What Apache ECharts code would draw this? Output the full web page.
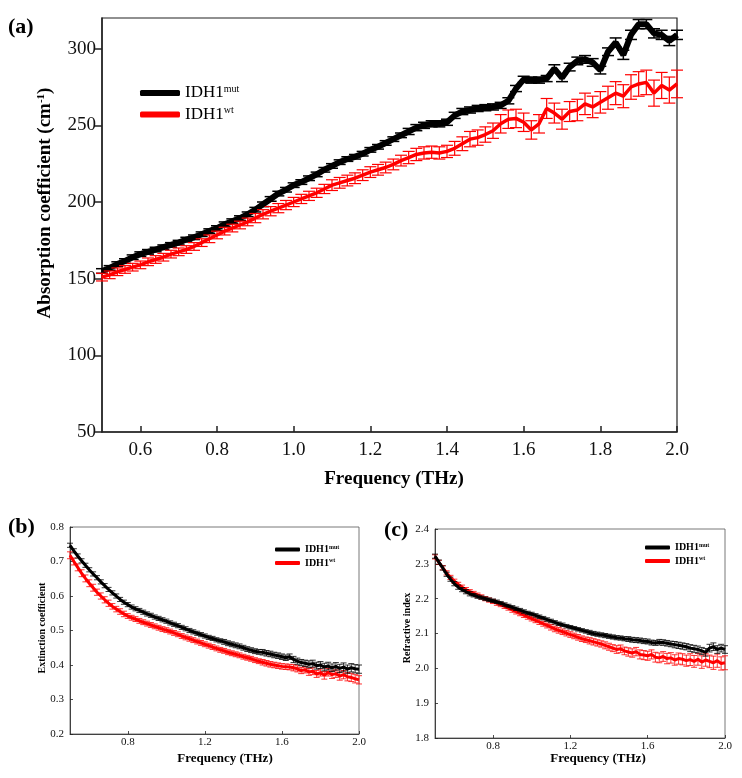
<!DOCTYPE html>
<html><head><meta charset="utf-8">
<script src="https://cdn.jsdelivr.net/npm/echarts@6/dist/echarts.min.js"></script>
<style>html,body{margin:0;padding:0;background:#fff}#c{width:742px;height:778px}</style>
</head><body><div id="c"></div>
<script>
const freq = [0.50,0.52,0.54,0.56,0.58,0.60,0.62,0.64,0.66,0.68,0.70,0.72,0.74,0.76,0.78,0.80,0.82,0.84,0.86,0.88,0.90,0.92,0.94,0.96,0.98,1.00,1.02,1.04,1.06,1.08,1.10,1.12,1.14,1.16,1.18,1.20,1.22,1.24,1.26,1.28,1.30,1.32,1.34,1.36,1.38,1.40,1.42,1.44,1.46,1.48,1.50,1.52,1.54,1.56,1.58,1.60,1.62,1.64,1.66,1.68,1.70,1.72,1.74,1.76,1.78,1.80,1.82,1.84,1.86,1.88,1.90,1.92,1.94,1.96,1.98,2.00];

// (a) absorption coefficient (cm-1)
const absMut = [155,157,159.5,161.5,164,166,167.5,169,170.5,172,173.5,175.5,177,179,181,183,185.5,187.5,189.5,192,195,198.5,202,205.5,208,211,213,215.5,218,221,223.5,226,228,229.5,231.5,234,236,238.5,241,243.5,246,248.5,250,251,251,252,256.5,259,260,261,261.5,262,263,266,274,280,279.5,279.5,280.5,287,281,288,292,293,291,286,298,304,296,309,316,316,310,309,305,309];
const absMutErr = [1.5,1.5,1.5,1.5,1.5,1.5,1.5,1.5,1.5,1.5,1.5,1.5,1.5,1.5,1.5,1.5,1.5,1.5,1.5,1.5,1.5,1.5,1.5,1.5,1.5,1.5,1.5,1.5,1.5,1.5,1.5,1.5,1.5,1.5,1.5,1.5,1.5,1.5,1.5,1.5,2,2,2,2,2,2,2,2,2,2,2,2,2,2,2,2,2,2,2,2.5,2.5,2.5,2.5,2.5,2.5,2.5,2.5,3,3,3,3,3,3,3,3,3];
const absWt = [151,152.5,154.5,156,157.5,159,161,162.5,164,166,167.5,169,171,173.5,176,178.5,181,183,185,187,189.5,192,194,196,198,200,202,204,206,208.5,211,212.5,214,215.5,217.5,219.5,221,222.5,224.5,227,229,231,232,232.5,232,233,235,238,241,242,244,246.5,251,254,254.5,252,247,251,261,258,254,259,260,264,262,265,268,271,269,275,277,278,271,276,273,277];
const absWtErr = [2.5,2.5,2.5,2.5,2.5,2.5,2.5,2.5,2.5,2.5,2.5,2.5,2.5,2.5,2.5,2.5,2.5,2.5,2.5,2.5,3,3,3,3,3,3,3,3,3,3,3.5,3.5,3.5,3.5,3.5,3.5,3.5,3.5,3.5,3.5,4,4,4,4,4,4,4.5,4.5,5,5,5,5,6,6,6,6,6,6,6.5,6.5,6.5,6.5,7,7,7,7,7.5,7.5,7.5,8,8,8,8.5,8.5,8.5,9];

// (b) extinction coefficient
const extMut = [0.747,0.731,0.716,0.702,0.689,0.676,0.664,0.653,0.641,0.630,0.619,0.609,0.600,0.590,0.582,0.575,0.568,0.563,0.558,0.553,0.548,0.544,0.539,0.535,0.531,0.527,0.522,0.518,0.514,0.509,0.505,0.500,0.496,0.492,0.488,0.484,0.480,0.477,0.473,0.470,0.467,0.463,0.460,0.457,0.454,0.450,0.446,0.443,0.440,0.438,0.437,0.434,0.432,0.429,0.427,0.424,0.421,0.424,0.416,0.411,0.407,0.405,0.402,0.404,0.398,0.400,0.394,0.397,0.392,0.396,0.390,0.394,0.388,0.392,0.389,0.388];
const extMutErr = [0.006,0.006,0.006,0.006,0.006,0.006,0.006,0.006,0.006,0.006,0.006,0.006,0.006,0.006,0.006,0.006,0.006,0.006,0.006,0.006,0.006,0.006,0.006,0.006,0.006,0.006,0.006,0.006,0.006,0.006,0.006,0.006,0.006,0.006,0.006,0.006,0.006,0.006,0.006,0.006,0.007,0.007,0.007,0.007,0.007,0.007,0.007,0.007,0.007,0.007,0.008,0.008,0.008,0.008,0.008,0.008,0.008,0.008,0.009,0.009,0.009,0.009,0.010,0.010,0.010,0.010,0.011,0.011,0.011,0.011,0.012,0.012,0.012,0.012,0.012,0.012];
const extWt = [0.718,0.700,0.683,0.666,0.651,0.637,0.624,0.611,0.600,0.589,0.579,0.570,0.562,0.555,0.548,0.542,0.537,0.533,0.528,0.524,0.520,0.516,0.512,0.508,0.504,0.501,0.497,0.493,0.489,0.484,0.480,0.476,0.472,0.468,0.464,0.460,0.456,0.452,0.448,0.444,0.441,0.437,0.434,0.431,0.428,0.424,0.421,0.418,0.414,0.411,0.408,0.405,0.402,0.400,0.398,0.396,0.395,0.394,0.392,0.389,0.384,0.386,0.380,0.382,0.374,0.378,0.370,0.379,0.372,0.375,0.368,0.372,0.366,0.364,0.360,0.357];
const extWtErr = [0.010,0.010,0.010,0.010,0.010,0.010,0.010,0.009,0.009,0.009,0.009,0.008,0.008,0.008,0.008,0.007,0.007,0.007,0.007,0.007,0.007,0.007,0.007,0.007,0.007,0.007,0.007,0.007,0.007,0.007,0.007,0.007,0.007,0.007,0.007,0.007,0.007,0.007,0.007,0.007,0.007,0.007,0.007,0.007,0.007,0.007,0.007,0.007,0.007,0.007,0.008,0.008,0.008,0.008,0.008,0.008,0.008,0.008,0.009,0.009,0.009,0.009,0.010,0.010,0.010,0.010,0.011,0.011,0.011,0.011,0.012,0.012,0.012,0.012,0.012,0.012];

// (c) refractive index
const refMut = [2.322,2.305,2.288,2.270,2.256,2.243,2.233,2.226,2.220,2.214,2.210,2.206,2.203,2.200,2.197,2.194,2.191,2.187,2.183,2.179,2.175,2.171,2.167,2.163,2.159,2.156,2.152,2.148,2.144,2.140,2.136,2.132,2.128,2.125,2.121,2.118,2.115,2.112,2.109,2.106,2.103,2.100,2.098,2.096,2.094,2.092,2.090,2.088,2.087,2.085,2.084,2.082,2.081,2.080,2.078,2.077,2.074,2.073,2.075,2.074,2.072,2.070,2.068,2.066,2.064,2.062,2.058,2.056,2.054,2.050,2.046,2.058,2.062,2.054,2.058,2.054];
const refMutErr = [0.006,0.006,0.006,0.006,0.006,0.006,0.006,0.006,0.006,0.006,0.005,0.005,0.005,0.005,0.005,0.005,0.005,0.005,0.005,0.005,0.005,0.005,0.005,0.005,0.005,0.005,0.005,0.005,0.005,0.005,0.005,0.005,0.005,0.005,0.005,0.005,0.005,0.005,0.005,0.005,0.006,0.006,0.006,0.006,0.006,0.006,0.006,0.006,0.006,0.006,0.007,0.007,0.007,0.007,0.007,0.007,0.007,0.007,0.008,0.008,0.008,0.008,0.009,0.009,0.009,0.009,0.010,0.010,0.010,0.010,0.011,0.011,0.011,0.011,0.011,0.011];
const refWt = [2.320,2.304,2.289,2.274,2.261,2.250,2.241,2.233,2.226,2.220,2.215,2.210,2.205,2.200,2.196,2.192,2.187,2.183,2.178,2.173,2.168,2.163,2.158,2.153,2.148,2.143,2.138,2.133,2.128,2.123,2.118,2.113,2.109,2.105,2.101,2.097,2.093,2.089,2.085,2.082,2.079,2.076,2.073,2.070,2.066,2.062,2.058,2.054,2.056,2.050,2.047,2.044,2.048,2.040,2.038,2.036,2.040,2.032,2.030,2.034,2.028,2.030,2.024,2.028,2.026,2.022,2.025,2.020,2.026,2.018,2.024,2.020,2.016,2.022,2.014,2.016];
const refWtErr = [0.006,0.006,0.006,0.006,0.006,0.006,0.006,0.006,0.006,0.006,0.006,0.006,0.006,0.006,0.006,0.006,0.006,0.006,0.006,0.006,0.007,0.007,0.007,0.007,0.007,0.007,0.007,0.007,0.007,0.007,0.008,0.008,0.008,0.008,0.008,0.008,0.008,0.008,0.008,0.008,0.009,0.009,0.009,0.009,0.010,0.010,0.010,0.011,0.011,0.011,0.012,0.012,0.012,0.013,0.013,0.013,0.013,0.014,0.014,0.014,0.015,0.015,0.015,0.016,0.016,0.016,0.017,0.017,0.017,0.018,0.018,0.018,0.019,0.019,0.019,0.020];

const xTicksA = [0.6,0.8,1.0,1.2,1.4,1.6,1.8,2.0];
const yTicksA = [50,100,150,200,250,300];
const xTicksBC = [0.8,1.2,1.6,2.0];
const yTicksB = [0.2,0.3,0.4,0.5,0.6,0.7,0.8];
const yTicksC = [1.8,1.9,2.0,2.1,2.2,2.3,2.4];
const legendNames = ['IDH1mut','IDH1wt'];

const FONT = '"Liberation Serif", "Times New Roman", serif';
const chart = echarts.init(document.getElementById('c'), null, {renderer:'canvas'});

function pts(v){ return freq.map((f,i)=>[f, v[i]]); }
function errPts(v,e){ return freq.map((f,i)=>[f, v[i], e[i]]); }
function errRender(cap, color, lw){
  return function(params, api){
    const x = api.value(0), y = api.value(1), e = api.value(2);
    const lo = api.coord([x, y - e]), hi = api.coord([x, y + e]);
    const st = {stroke: color, lineWidth: lw};
    return {type:'group', children:[
      {type:'line', shape:{x1:lo[0],y1:lo[1],x2:hi[0],y2:hi[1]}, style:st},
      {type:'line', shape:{x1:hi[0]-cap,y1:hi[1],x2:hi[0]+cap,y2:hi[1]}, style:st},
      {type:'line', shape:{x1:lo[0]-cap,y1:lo[1],x2:lo[0]+cap,y2:lo[1]}, style:st}
    ]};
  };
}
function xAxisCfg(gi, min, max, ticks, fs, tickLen, lw, margin){
  return {type:'value', gridIndex:gi, min:min, max:max,
    axisLine:{show:true, onZero:false, lineStyle:{color:'#222', width:lw}},
    axisTick:{show:true, inside:true, length:tickLen, customValues:ticks, lineStyle:{color:'#222', width:lw}},
    axisLabel:{customValues:ticks, formatter:v=>v.toFixed(1), color:'#111', fontFamily:FONT, fontSize:fs, margin:margin},
    splitLine:{show:false}};
}
function yAxisCfg(gi, min, max, ticks, fs, tickLen, inside, dec, lw, margin){
  return {type:'value', gridIndex:gi, min:min, max:max,
    axisLine:{show:true, onZero:false, lineStyle:{color:'#222', width:lw}},
    axisTick:{show:true, inside:inside, length:tickLen, customValues:ticks, lineStyle:{color:'#222', width:lw}},
    axisLabel:{customValues:ticks, formatter:v=>dec?v.toFixed(dec):String(v), color:'#111', fontFamily:FONT, fontSize:fs, margin:margin},
    splitLine:{show:false}};
}
function legendCfg(left, top, iw, ih, fs, bold, gap){
  return {orient:'vertical', left:left, top:top, itemWidth:iw, itemHeight:ih, itemGap:gap, icon:'roundRect',
    data:[{name:'IDH1mut', itemStyle:{color:'#000'}},{name:'IDH1wt', itemStyle:{color:'#ff0000'}}],
    formatter: n => n==='IDH1mut' ? '{m|IDH1}{s|mut}' : '{m|IDH1}{s|wt}',
    textStyle:{rich:{
      m:{fontFamily:FONT, fontSize:fs, fontWeight:bold?'bold':'normal', color:'#000'},
      s:{fontFamily:FONT, fontSize:Math.round(fs*0.6), fontWeight:bold?'bold':'normal', color:'#000', verticalAlign:'top', padding:[0,0,Math.round(fs*0.45),0]}
    }}};
}
function gtext(x, y, rich, rot, extra){
  return Object.assign({type:'text', x:x, y:y, rotation:rot||0, silent:true,
    style:Object.assign({align:'center', verticalAlign:'middle', fill:'#000'}, rich)}, extra||{});
}

const option = {
  backgroundColor:'#fff',
  animation:false,
  grid:[
    {left:102, top:18, width:575, height:414, show:true, borderColor:'#222', borderWidth:1.2},
    {left:70, top:527, width:289, height:207, show:true, borderColor:'#555', borderWidth:0.8},
    {left:435, top:529, width:290, height:209, show:true, borderColor:'#555', borderWidth:0.8}
  ],
  xAxis:[
    xAxisCfg(0, 0.5, 2.0, xTicksA, 19, 6, 1.5, 9),
    xAxisCfg(1, 0.5, 2.0, xTicksBC, 11, 3, 0.8, 3),
    xAxisCfg(2, 0.5, 2.0, xTicksBC, 11, 3, 0.8, 3)
  ],
  yAxis:[
    yAxisCfg(0, 50, 320, yTicksA, 19, 8, false, 0, 1.5, 6),
    yAxisCfg(1, 0.2, 0.8, yTicksB, 11, 3, true, 1, 0.8, 6),
    yAxisCfg(2, 1.8, 2.4, yTicksC, 11, 3, true, 1, 0.8, 6)
  ],
  legend:[
    legendCfg(135, 79, 40, 6, 17, false, 4),
    legendCfg(270, 539, 25, 4, 10, true, 3),
    legendCfg(640, 537, 25, 4, 10, true, 3)
  ],
  series:[
    {type:'custom', name:'errMutA', xAxisIndex:0, yAxisIndex:0, renderItem:errRender(6,'#000',1.5), data:errPts(absMut,absMutErr), encode:{x:0,y:1}, z:2},
    {type:'line', name:'IDH1mut', xAxisIndex:0, yAxisIndex:0, data:pts(absMut), showSymbol:false, color:'#000', lineStyle:{width:6, color:'#000'}, z:3},
    {type:'custom', name:'errWtA', xAxisIndex:0, yAxisIndex:0, renderItem:errRender(6,'#ff0000',1.2), data:errPts(absWt,absWtErr), encode:{x:0,y:1}, z:4},
    {type:'line', name:'IDH1wt', xAxisIndex:0, yAxisIndex:0, data:pts(absWt), showSymbol:false, color:'#ff0000', lineStyle:{width:3.5, color:'#ff0000'}, z:5},

    {type:'custom', name:'errWtB', xAxisIndex:1, yAxisIndex:1, renderItem:errRender(3,'#ff0000',0.8), data:errPts(extWt,extWtErr), encode:{x:0,y:1}, z:2},
    {type:'line', name:'IDH1wt', xAxisIndex:1, yAxisIndex:1, data:pts(extWt), showSymbol:false, color:'#ff0000', lineStyle:{width:3, color:'#ff0000'}, z:3},
    {type:'custom', name:'errMutB', xAxisIndex:1, yAxisIndex:1, renderItem:errRender(3,'#000',0.8), data:errPts(extMut,extMutErr), encode:{x:0,y:1}, z:4},
    {type:'line', name:'IDH1mut', xAxisIndex:1, yAxisIndex:1, data:pts(extMut), showSymbol:false, color:'#000', lineStyle:{width:3, color:'#000'}, z:5},

    {type:'custom', name:'errWtC', xAxisIndex:2, yAxisIndex:2, renderItem:errRender(3,'#ff0000',0.8), data:errPts(refWt,refWtErr), encode:{x:0,y:1}, z:2},
    {type:'line', name:'IDH1wt', xAxisIndex:2, yAxisIndex:2, data:pts(refWt), showSymbol:false, color:'#ff0000', lineStyle:{width:3, color:'#ff0000'}, z:3},
    {type:'custom', name:'errMutC', xAxisIndex:2, yAxisIndex:2, renderItem:errRender(3,'#000',0.8), data:errPts(refMut,refMutErr), encode:{x:0,y:1}, z:4},
    {type:'line', name:'IDH1mut', xAxisIndex:2, yAxisIndex:2, data:pts(refMut), showSymbol:false, color:'#000', lineStyle:{width:3, color:'#000'}, z:5}
  ],
  graphic:[
    gtext(8, 27, {text:'(a)', font:'bold 22px '+FONT, align:'left'}),
    gtext(8, 527, {text:'(b)', font:'bold 22px '+FONT, align:'left'}),
    gtext(384, 530, {text:'(c)', font:'bold 22px '+FONT, align:'left'}),
    gtext(45, 203, {text:'{t|Absorption coefficient (cm}{s|-1}{t|)}', rich:{
      t:{fontFamily:FONT, fontSize:19, fontWeight:'bold', fill:'#000'},
      s:{fontFamily:FONT, fontSize:11, fontWeight:'bold', fill:'#000', verticalAlign:'top', padding:[0,0,8,0]}}}, Math.PI/2),
    gtext(394, 479, {text:'Frequency (THz)', font:'bold 19px '+FONT}),
    gtext(225, 759, {text:'Frequency (THz)', font:'bold 13px '+FONT}),
    gtext(598, 759, {text:'Frequency (THz)', font:'bold 13px '+FONT}),
    gtext(42, 628, {text:'Extinction coefficient', font:'bold 10px '+FONT}, Math.PI/2),
    gtext(407, 628, {text:'Refractive index', font:'bold 10px '+FONT}, Math.PI/2)
  ]
};
chart.setOption(option);
</script></body></html>
